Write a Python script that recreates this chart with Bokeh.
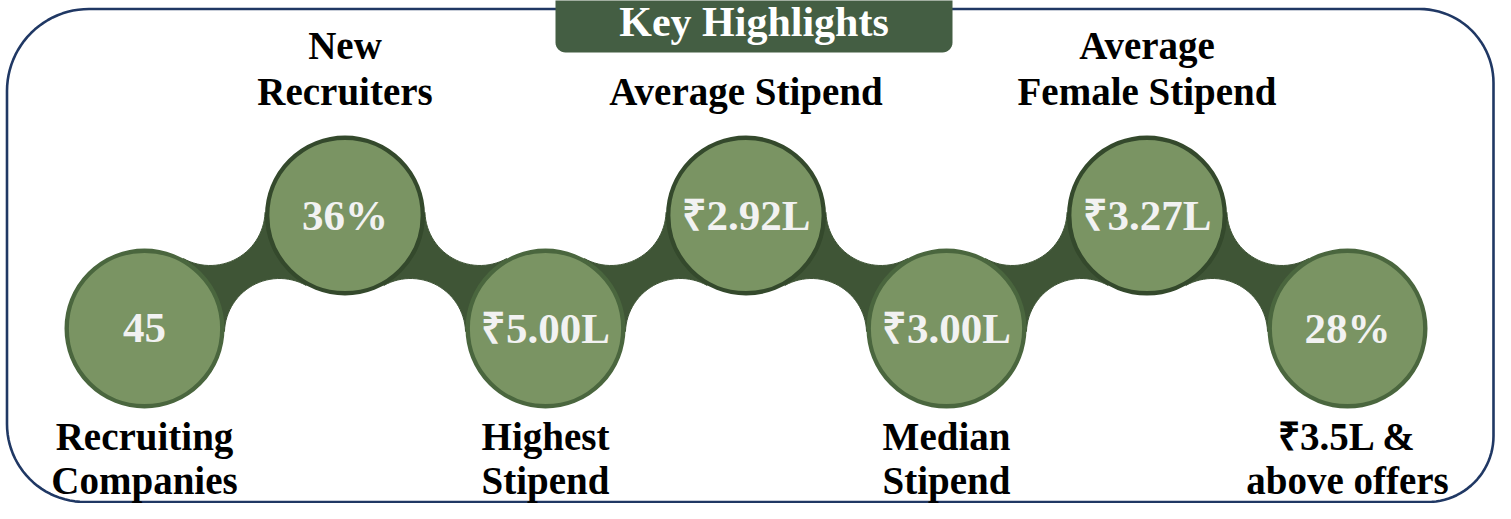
import math
from bokeh.plotting import figure
from bokeh.models import Range1d
from bokeh.core.properties import value
from bokeh.embed import file_html
from bokeh.resources import INLINE

# ---------------- data ----------------
title = "Key Highlights"
values = ["45", "36%", "₹5.00L", "₹2.92L", "₹3.00L", "₹3.27L", "28%"]
labels = [
    ["Recruiting", "Companies"],
    ["New", "Recruiters"],
    ["Highest", "Stipend"],
    ["Average Stipend"],
    ["Median", "Stipend"],
    ["Average", "Female Stipend"],
    ["₹3.5L &", "above offers"],
]

# ---------------- layout / style ----------------
W, H = 1495, 503
FONT = value("Liberation Serif")
BAND = "#3F5536"
FILL = "#7A9463"
RING_TOP = "#34492C"
RING_BOT = "#4A663E"
NAVY = "#203864"
TITLE_BG = "#445E43"
BASE_K = 0.35   # correction: rendered baseline sits ~0.35em below requested y

n = len(values)
x0, step = 144.0, 200.5
y_low, y_high = 328.0, 215.0
r_out = 80.0
R_cut = 55.0

cx = [x0 + step * i for i in range(n)]
cy = [y_low if i % 2 == 0 else y_high for i in range(n)]

p = figure(width=W, height=H,
           x_range=Range1d(0, W), y_range=Range1d(H, 0),
           x_axis_type=None, y_axis_type=None,
           output_backend="svg", toolbar_location=None, min_border=0)
p.grid.visible = False
p.outline_line_color = None
p.background_fill_color = "white"
p.border_fill_color = "white"


def arc_pts(xc, yc, rad, a0, a1, k=24):
    return [(xc + rad * math.cos(a0 + (a1 - a0) * t / k),
             yc + rad * math.sin(a0 + (a1 - a0) * t / k)) for t in range(k + 1)]


def base(y, fs):
    return y - BASE_K * fs


# ---------- outer rounded border ----------
L, T, Rg, B = 6.5, 8.5, 1493.0, 501.5
rtl, rtr, rbr, rbl = 82, 74, 66, 78
pts = []
pts += arc_pts(L + rtl, T + rtl, rtl, math.pi, 1.5 * math.pi)
pts += arc_pts(Rg - rtr, T + rtr, rtr, 1.5 * math.pi, 2 * math.pi)
pts += arc_pts(Rg - rbr, B - rbr, rbr, 0, 0.5 * math.pi)
pts += arc_pts(L + rbl, B - rbl, rbl, 0.5 * math.pi, math.pi)
pts.append(pts[0])
p.line([q[0] for q in pts], [q[1] for q in pts], line_color=NAVY, line_width=2.6)

# ---------- title box ----------
bx0, bx1, by0, by1, br = 555, 952, -2, 52, 10
tb = [(bx0, by0), (bx1, by0)]
tb += arc_pts(bx1 - br, by1 - br, br, 0, 0.5 * math.pi, 8)
tb += arc_pts(bx0 + br, by1 - br, br, 0.5 * math.pi, math.pi, 8)
p.patch([q[0] for q in tb], [q[1] for q in tb], fill_color=TITLE_BG, line_color=None)
fs_t = 42
p.text(x=[(bx0 + bx1) / 2], y=[base(36, fs_t)], text=[title], text_font=FONT,
       text_font_style="bold", text_font_size=f"{fs_t}px", text_color="white",
       text_align="center", text_baseline="alphabetic")

# ---------- connecting bands ----------
for i in range(n - 1):
    x1, y1, x2, y2 = cx[i], cy[i], cx[i + 1], cy[i + 1]
    dx, dy = x2 - x1, y2 - y1
    d = math.hypot(dx, dy)
    mx, my = (x1 + x2) / 2, (y1 + y2) / 2
    nx, ny = -dy / d, dx / d
    h = math.sqrt((r_out + R_cut) ** 2 - (d / 2) ** 2)
    arcs = []
    for side in (1, -1):
        kx, ky = mx + side * h * nx, my + side * h * ny
        a1 = math.atan2(y1 - ky, x1 - kx)
        a2 = math.atan2(y2 - ky, x2 - kx)
        da = (a2 - a1 + math.pi) % (2 * math.pi) - math.pi
        arcs.append(arc_pts(kx, ky, R_cut, a1, a1 + da, 30))
    poly = arcs[0] + arcs[1][::-1]
    p.patch([q[0] for q in poly], [q[1] for q in poly], fill_color=BAND, line_color=BAND,
            line_width=1)

# ---------- circles ----------
rings = [RING_BOT if i % 2 == 0 else RING_TOP for i in range(n)]
p.circle(x=cx, y=cy, radius=r_out - 2.2, fill_color=FILL, line_color=rings, line_width=4.4)

# ---------- values ----------
fs_v = 43
p.text(x=cx, y=[base(c + 15, fs_v) for c in cy], text=values, text_font=FONT,
       text_font_style="bold", text_font_size=f"{fs_v}px", text_color="#F2F2F2",
       text_align="center", text_baseline="alphabetic")

# ---------- labels ----------
fs_l = 39
lx, ly, lt = [], [], []
for i, lines in enumerate(labels):
    if i % 2 == 0:
        for j, s in enumerate(lines):
            lx.append(cx[i]); ly.append(base(450 + 44 * j, fs_l)); lt.append(s)
    else:
        m = len(lines)
        for j, s in enumerate(lines):
            lx.append(cx[i]); ly.append(base(105 - 46 * (m - 1 - j), fs_l)); lt.append(s)
p.text(x=lx, y=ly, text=lt, text_font=FONT, text_font_style="bold",
       text_font_size=f"{fs_l}px", text_color="black", text_align="center",
       text_baseline="alphabetic")

open("out.html", "w").write(file_html(p, INLINE))
